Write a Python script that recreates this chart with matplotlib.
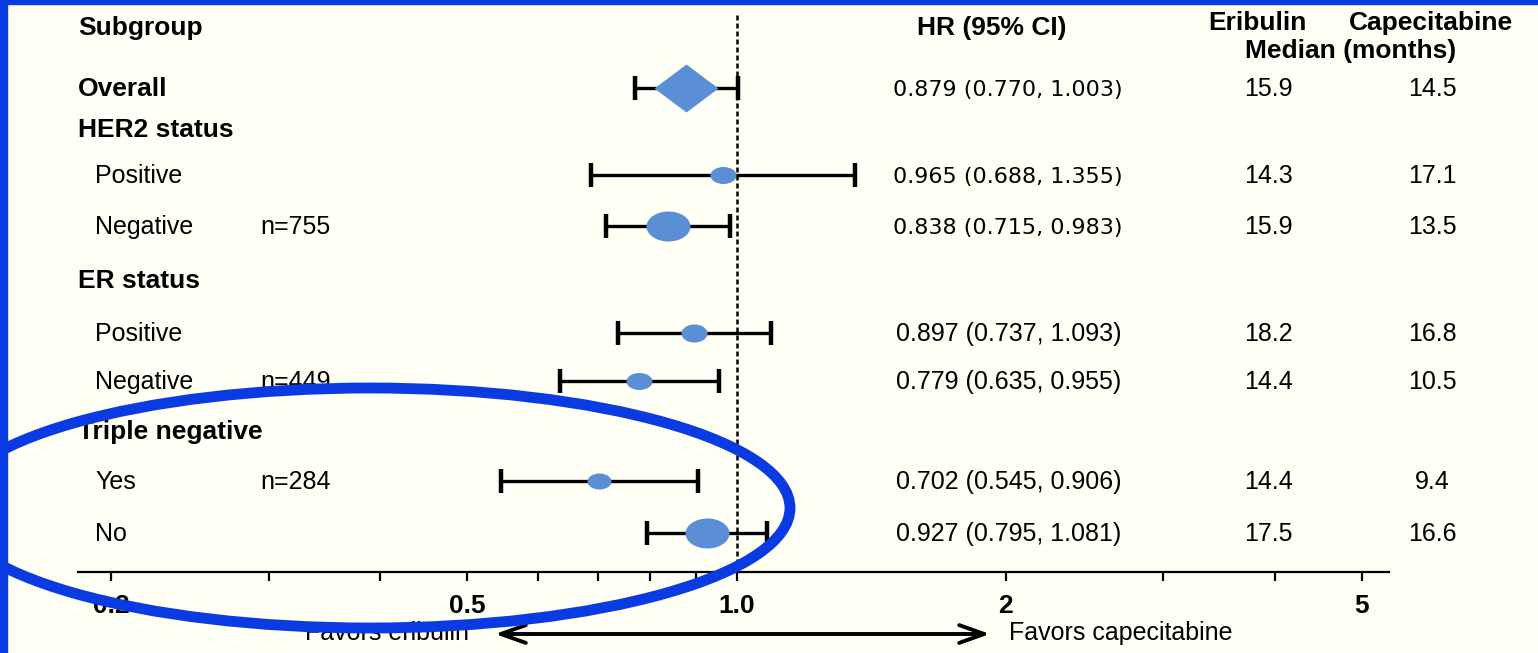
import numpy as np
import matplotlib.pyplot as plt
from matplotlib.path import Path
from matplotlib.transforms import Affine2D
from matplotlib.patches import Ellipse, Rectangle
from matplotlib.ticker import FixedLocator, NullFormatter

# Subgroup data (hazard ratios with 95% CI and median OS in months)
subgroups = ["Overall", "Positive", "Negative", "Positive", "Negative", "Yes", "No"]
hr = [0.879, 0.965, 0.838, 0.897, 0.779, 0.702, 0.927]
ci_low = [0.770, 0.688, 0.715, 0.737, 0.635, 0.545, 0.795]
ci_high = [1.003, 1.355, 0.983, 1.093, 0.955, 0.906, 1.081]
eribulin_median = [15.9, 14.3, 15.9, 18.2, 14.4, 14.4, 17.5]
capecitabine_median = [14.5, 17.1, 13.5, 16.8, 10.5, 9.4, 16.6]
n_labels = ["", "", "n=755", "", "n=449", "n=284", ""]
group_headers = ["HER2 status", "ER status", "Triple negative"]
major_ticks = [0.2, 0.5, 1.0, 2, 5]
major_labels = ["0.2", "0.5", "1.0", "2", "5"]
minor_ticks = [0.3, 0.4, 0.6, 0.7, 0.8, 0.9, 3, 4]

# layout (pixel rows from the top of the figure)
W, H = 1538, 653
row_y = [88, 175, 226, 333, 381, 481, 533]
group_y = [129, 280, 431]
marker_w = [64, 26, 44, 26, 26, 24, 44]
marker_h = [48, 17, 30, 18, 17, 16, 30]
axis_y = 572

bg = '#FFFFF6'
dot_blue = '#5A8FD6'
pen_blue = '#0A3AE2'
sans = 'Liberation Sans'
fs, fs_bold = 18, 19

fig = plt.figure(figsize=(W / 100, H / 100), dpi=100, facecolor=bg)

# forest plot axes on a log scale
ax = fig.add_axes([78 / W, (H - axis_y) / H, (1389 - 78) / W, axis_y / H])
ax.set_facecolor('none')
ax.set_xscale('log')
ax.set_xlim(0.1837, 5.36)
ax.set_ylim(axis_y, 0)
for side in ['top', 'left', 'right']:
    ax.spines[side].set_visible(False)
ax.spines['bottom'].set_linewidth(1.6)
ax.yaxis.set_visible(False)
ax.xaxis.set_major_locator(FixedLocator(major_ticks))
ax.xaxis.set_minor_locator(FixedLocator(minor_ticks))
ax.set_xticklabels(major_labels, fontfamily=sans, fontweight='bold', fontsize=19)
ax.xaxis.set_minor_formatter(NullFormatter())
ax.tick_params(axis='x', which='both', length=6.5, width=1.6, pad=9, color='black')

ax.axvline(1.0, ymin=0, ymax=(axis_y - 15) / axis_y, color='black', lw=1.8,
           ls=(0, (2, 1.2)), zorder=1)

def ellipse_marker(w, h):
    return Path.unit_circle().transformed(Affine2D().scale(w / h, 1))

diamond = Path([(-1, 0), (0, 0.75), (1, 0), (0, -0.75), (-1, 0)],
               [Path.MOVETO, Path.LINETO, Path.LINETO, Path.LINETO, Path.CLOSEPOLY])

for i in range(len(hr)):
    ax.errorbar(hr[i], row_y[i], xerr=[[hr[i] - ci_low[i]], [ci_high[i] - hr[i]]],
                fmt='none', ecolor='black', elinewidth=2.4, capsize=8.8,
                capthick=3.2, zorder=2)
    marker = diamond if i == 0 else ellipse_marker(marker_w[i], marker_h[i])
    ax.plot(hr[i], row_y[i], marker=marker, markersize=marker_w[i] * 0.72,
            color=dot_blue, markeredgewidth=0, linestyle='none', zorder=3)

# overlay in pixel coordinates for the table text and annotations
ov = fig.add_axes([0, 0, 1, 1], zorder=5)
ov.set_xlim(0, W)
ov.set_ylim(H, 0)
ov.axis('off')
ov.patch.set_visible(False)

def txt(x, y, s, ha='left', size=fs, weight='normal', family=sans):
    ov.text(x, y + 8, s, ha=ha, va='baseline', fontsize=size, fontweight=weight,
            fontfamily=family, color='black')

txt(78, 27, "Subgroup", size=fs_bold, weight='bold')
txt(992, 27, "HR (95% CI)", ha='center', size=fs_bold, weight='bold')
txt(1257, 22, "Eribulin", ha='center', size=fs_bold, weight='bold')
txt(1431, 22, "Capecitabine", ha='center', size=fs_bold, weight='bold')
txt(1351, 50, "Median (months)", ha='center', size=fs_bold, weight='bold')

for name, y in zip(group_headers, group_y):
    txt(78, y, name, size=fs_bold, weight='bold')

for i, name in enumerate(subgroups):
    y = row_y[i]
    if i == 0:
        txt(78, y, name, size=fs_bold, weight='bold')
    else:
        txt(95, y, name)
    if n_labels[i]:
        txt(260, y, n_labels[i])
    label = f"{hr[i]:.3f} ({ci_low[i]:.3f}, {ci_high[i]:.3f})"
    if i < 3:
        txt(1008, y, label, ha='center', size=16, family='DejaVu Sans')
    else:
        txt(1009, y, label, ha='center')
    txt(1268, y, f"{eribulin_median[i]:.1f}", ha='center')
    txt(1432, y, f"{capecitabine_median[i]:.1f}", ha='center')

# favours arrow under the axis
ov.annotate('', xy=(495, 634), xytext=(990, 634),
            arrowprops=dict(arrowstyle='<->, head_length=0.9, head_width=0.32',
                            lw=2.8, color='black', mutation_scale=20,
                            shrinkA=0, shrinkB=0))
ov.text(469, 640, "Favors eribulin", ha='right', va='baseline', fontsize=fs,
        fontfamily=sans)
ov.text(1009, 640, "Favors capecitabine", ha='left', va='baseline', fontsize=fs,
        fontfamily=sans)

# hand-drawn highlight ring and slide frame
ov.add_patch(Ellipse((370, 508), 840, 240, fill=False, edgecolor=pen_blue,
                     lw=7.8, zorder=10))
ov.add_patch(Rectangle((0, 0), W, 4, color=pen_blue, zorder=11))
ov.add_patch(Rectangle((0, 0), 7, H, color=pen_blue, zorder=11))

fig.savefig('out.png', dpi=100, facecolor=bg)
